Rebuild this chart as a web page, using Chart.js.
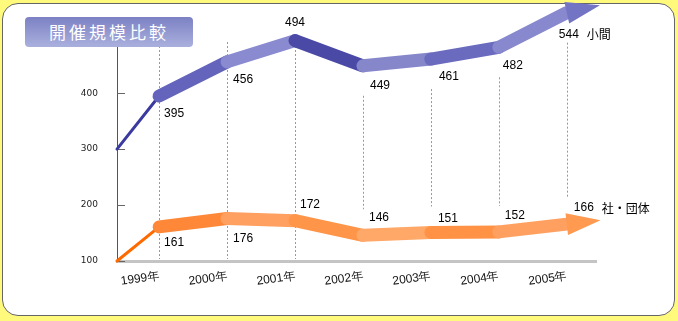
<!DOCTYPE html>
<html>
<head>
<meta charset="utf-8">
<script src="https://cdn.jsdelivr.net/npm/chart.js@4"></script>
<style>
  html, body { margin: 0; padding: 0; }
  body { width: 678px; height: 321px; background: #fff97c; position: relative; overflow: hidden; }
  #panel { position: absolute; left: 2px; top: 3px; width: 671px; height: 311px; background: #fff;
           border: 1.5px solid #666; border-radius: 16px; }
  #wrap { position: absolute; left: 0; top: 0; width: 678px; height: 321px; }
  #title { position: absolute; left: 25px; top: 17px; width: 168px; height: 30px; border-radius: 4px;
           background: linear-gradient(#7c81c4, #aab0dd); color: #fff; text-align: center;
           font: 17px "Noto Sans CJK JP", sans-serif; line-height: 30px; letter-spacing: 3px; }
</style>
</head>
<body>
<div id="panel"></div>
<div id="wrap"><canvas id="myChart" width="678" height="321"></canvas></div>
<div id="title">開催規模比較</div>
<script>
const years = ['1999年', '2000年', '2001年', '2002年', '2003年', '2004年', '2005年']
const koma = [395, 456, 494, 449, 461, 482, 544]
const dantai = [161, 176, 172, 146, 151, 152, 166]
const ribbonStart = [300, 100]   // where each ribbon leaves the axis
const yTicks = [100, 200, 300, 400]
const seriesNames = ['小間', '社・団体']

const xMin = -0.62
const xMax = 6.43

const toPoints = (start, vals) => [{ x: xMin, y: start }].concat(vals.map((v, i) => ({ x: i, y: v })))

const purpleSegs = ['#3a3aa0', '#6464bc', '#8a8ad0', '#4a4aa6', '#8686ca', '#6a6abe', '#8888ce']
const orangeSegs = ['#ff6a00', '#ff8838', '#ffa060', '#ff9548', '#ffa868', '#ff9244', '#ffa060']

// label offsets (dx, dy, align) per point
const purpleLbl = [[5, 18], [6, 18], [0, -18, 'center'], [7, 20], [8, 18], [4, 18], [-8, 22]]
const orangeLbl = [[5, 16], [6, 20], [5, -16], [6, -18], [7, -14], [6, -16], [7, -16]]

const decor = {
    id: 'decor',
    beforeDatasetsDraw(chart) {
        const { ctx, chartArea, scales: { x, y } } = chart
        ctx.save()
        ctx.strokeStyle = '#999'
        ctx.lineWidth = 1
        ctx.setLineDash([2, 2])
        years.forEach((yr, i) => {
            const px = Math.round(x.getPixelForValue(i)) + 0.5
            const top = i < 3 ? 42 : y.getPixelForValue(koma[i]) + 30
            const bottom = i < 3 ? chartArea.bottom - 2 : y.getPixelForValue(dantai[i]) - 26
            ctx.beginPath()
            ctx.moveTo(px, top)
            ctx.lineTo(px, bottom)
            ctx.stroke()
        })
        ctx.setLineDash([])
        // y tick marks inside the axis
        ctx.strokeStyle = '#666'
        yTicks.forEach(v => {
            const py = Math.round(y.getPixelForValue(v)) + 0.5
            ctx.beginPath()
            ctx.moveTo(chartArea.left, py)
            ctx.lineTo(chartArea.left + 8, py)
            ctx.stroke()
        })
        ctx.restore()
    },
    afterDatasetsDraw(chart) {
        const { ctx } = chart
        ctx.save()
        chart.data.datasets.forEach((ds, d) => {
            const pts = chart.getDatasetMeta(d).data
            const last = pts[pts.length - 1]
            const prev = pts[pts.length - 2]
            let ang = Math.atan2(last.y - prev.y, last.x - prev.x)
            ang = Math.max(-0.22, Math.min(0.1, ang))
            const nx = -Math.sin(ang), ny = Math.cos(ang)
            ctx.fillStyle = d === 0 ? '#7474c4' : '#ff9a50'
            ctx.beginPath()
            ctx.moveTo(last.x + nx * 11, last.y + ny * 11)
            ctx.lineTo(last.x - nx * 11, last.y - ny * 11)
            ctx.lineTo(last.x + Math.cos(ang) * 34, last.y + Math.sin(ang) * 34)
            ctx.closePath()
            ctx.fill()

            const vals = d === 0 ? koma : dantai
            const offs = d === 0 ? purpleLbl : orangeLbl
            ctx.fillStyle = '#000'
            ctx.font = '12px "Liberation Sans Narrow", "Liberation Sans", sans-serif'
            ctx.textBaseline = 'middle'
            vals.forEach((v, i) => {
                const p = pts[i + 1]
                const o = offs[i]
                ctx.textAlign = o[2] || 'left'
                let txt = String(v)
                ctx.fillText(txt, p.x + o[0], p.y + o[1])
                if (i === vals.length - 1) {
                    ctx.textAlign = 'left'
                    const w = ctx.measureText(txt).width
                    ctx.font = '12px "Noto Sans CJK JP", sans-serif'
                    ctx.fillText(seriesNames[d], p.x + o[0] + w + 8, p.y + o[1])
                }
            })
        })
        ctx.restore()
    }
}

const ctx = document.getElementById('myChart')
const myChart = new Chart(ctx, {
    type: 'line',
    data: {
        datasets: [
            {
                label: seriesNames[0],
                data: toPoints(ribbonStart[0], koma),
                borderColor: '#6464bc',
                borderWidth: 13,
                borderJoinStyle: 'round',
                borderCapStyle: 'round',
                pointRadius: 0,
                clip: false,
                segment: {
                    borderColor: c => purpleSegs[c.p0DataIndex],
                    borderWidth: c => c.p0DataIndex === 0 ? 3 : 13
                }
            },
            {
                label: seriesNames[1],
                data: toPoints(ribbonStart[1], dantai),
                borderColor: '#ff9046',
                borderWidth: 13,
                borderJoinStyle: 'round',
                borderCapStyle: 'round',
                pointRadius: 0,
                clip: false,
                segment: {
                    borderColor: c => orangeSegs[c.p0DataIndex],
                    borderWidth: c => c.p0DataIndex === 0 ? 3 : 13
                }
            }
        ]
    },
    options: {
        responsive: false,
        animation: false,
        layout: { padding: { top: 20, right: 82, left: 0, bottom: 0 } },
        plugins: {
            legend: { display: false },
            tooltip: { enabled: false }
        },
        scales: {
            x: {
                type: 'linear',
                min: xMin,
                max: xMax,
                afterBuildTicks: s => { s.ticks = years.map((yr, i) => ({ value: i })) },
                afterFit: s => { s.height = 60 },
                grid: { display: false, drawTicks: false },
                border: { display: true, color: '#c4c4c4', width: 3 },
                ticks: {
                    callback: v => years[v],
                    minRotation: 8,
                    maxRotation: 8,
                    padding: 8,
                    color: '#111',
                    font: { family: '"Liberation Sans Narrow", "Liberation Sans", sans-serif', size: 12 }
                }
            },
            y: {
                min: 100,
                max: 523,
                afterBuildTicks: s => { s.ticks = yTicks.map(v => ({ value: v })) },
                afterFit: s => { s.width = 117 },
                grid: { display: false, drawTicks: false },
                border: { display: true, color: '#555', width: 1 },
                ticks: {
                    padding: 19,
                    color: '#222',
                    font: { family: '"DejaVu Sans", sans-serif', size: 9 }
                }
            }
        }
    },
    plugins: [decor]
})
</script>
</body>
</html>
